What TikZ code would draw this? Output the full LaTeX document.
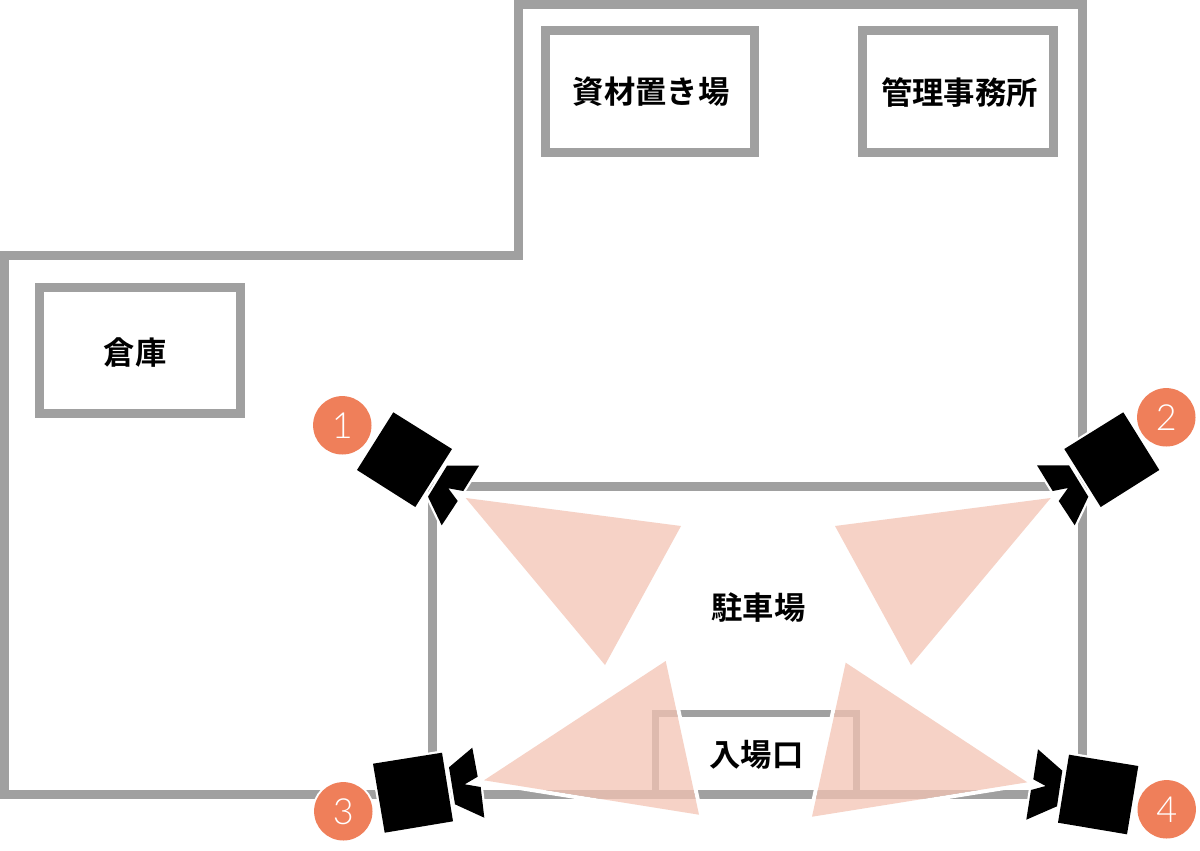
\documentclass[tikz,border=0pt]{standalone}
\usepackage{fontspec}
\newfontfamily\jpfont{Noto Sans CJK JP Bold}
\newfontfamily\numfont{Lato Light}
\definecolor{wallgray}{HTML}{A0A0A0}
\definecolor{badgeorange}{HTML}{EF7F5A}
\definecolor{conefill}{HTML}{F3C3B3}
\tikzset{
  wall/.style={draw=wallgray,line width=6.75pt,miter limit=10},
  gate/.style={draw=wallgray,line width=5.1pt},
  label/.style={font=\jpfont\fontsize{23.5}{23.5}\selectfont,text=black,inner sep=0pt},
  badge/.style={circle,fill=badgeorange,preaction={draw=white,line width=3pt},minimum size=43.8pt,inner sep=0pt,outer sep=0pt,text=white,font=\numfont\fontsize{27}{27}\selectfont},
  campart/.style={fill=black,preaction={draw=white,line width=3.4pt,miter limit=10}},
  halo/.style={draw=white,line width=6pt,line join=miter,miter limit=10},
  cone/.style={fill=conefill,fill opacity=0.75},
}
\newcommand{\viewcone}[3]{%
  \begin{scope}[even odd rule]
    \clip (0,0) rectangle (1200,850) #1 -- #2 -- #3 -- cycle;
    \draw[halo] #1 -- #2 -- #3 -- cycle;
  \end{scope}
  \path[cone] #1 -- #2 -- #3 -- cycle;
}
\begin{document}
\begin{tikzpicture}[x=0.75pt,y=-0.75pt]
\useasboundingbox (0,0) rectangle (1200,850);
\fill[white] (0,0) rectangle (1200,850);
% walls
\draw[wall] (4.5,794.5) -- (4.5,255.5) -- (518,255.5) -- (518,4.5) -- (1082.5,4.5) -- (1082.5,794.5) -- cycle;
\draw[wall] (432.5,794.5) -- (432.5,486.5) -- (1082.5,486.5);
% buildings
\draw[wall] (545,30.5) rectangle (754,152.2);
\draw[wall] (862.5,30.5) rectangle (1053.5,152);
\draw[wall] (39.5,287.5) rectangle (240.5,413.5);
% entrance
\draw[gate] (655.6,713.3) rectangle (856.7,794.5);
% texts
\node[label] (t1) at (651,92) {資材置き場};
\node[label] (t2) at (959.5,92) {管理事務所};
\node[label] (t3) at (135,353) {倉庫};
\node[label] (t4) at (758.5,608) {駐車場};
\node[label] (t5) at (756.5,755) {入場口};
% view cones
\viewcone{(465.7,498)}{(681,526)}{(605,665)}
\viewcone{(1050.7,498)}{(835,526)}{(911,665)}
\viewcone{(484,780.3)}{(665.7,661)}{(699,814.7)}
\viewcone{(1027.3,782.3)}{(845.7,662.7)}{(812,816.7)}
% badges
\node[badge] (b1) at (342.3,425.3) {1};
\node[badge] (b2) at (1166.3,417.3) {2};
\node[badge] (b3) at (343.3,811.3) {3};
\node[badge] (b4) at (1166.7,809.3) {4};
% cameras
\path[campart] (393.3,412.3) -- (452,449) -- (415.3,507) -- (357,470) -- cycle;
\path[campart] (447,465.7) -- (479,465.7) -- (463.3,491) -- (448.3,488.3) -- (457.7,501) -- (441.7,525.3) -- (428,496.7) -- cycle;
\path[campart] (1123.3,412.3) -- (1159.3,470) -- (1100.7,507) -- (1064.3,449) -- cycle;
\path[campart] (1037,465.3) -- (1069,465.3) -- (1088.3,496.7) -- (1074.7,525.3) -- (1058.7,501) -- (1068,488) -- (1052.7,491) -- cycle;
\path[campart] (373,763.7) -- (442,752.7) -- (453,821.3) -- (384.7,832.7) -- cycle;
\path[campart] (449,767.3) -- (472.3,747.7) -- (477.7,776.7) -- (464.7,784.3) -- (480.7,787) -- (484.3,817.7) -- (455,804.3) -- cycle;
\path[campart] (1069,754.7) -- (1138.3,766) -- (1127,834.3) -- (1058,822.7) -- cycle;
\path[campart] (1038,749.3) -- (1062.3,770.7) -- (1057,806.3) -- (1026.3,819.7) -- (1031,790) -- (1045.7,786) -- (1033.3,779.3) -- cycle;
\end{tikzpicture}
\end{document}
